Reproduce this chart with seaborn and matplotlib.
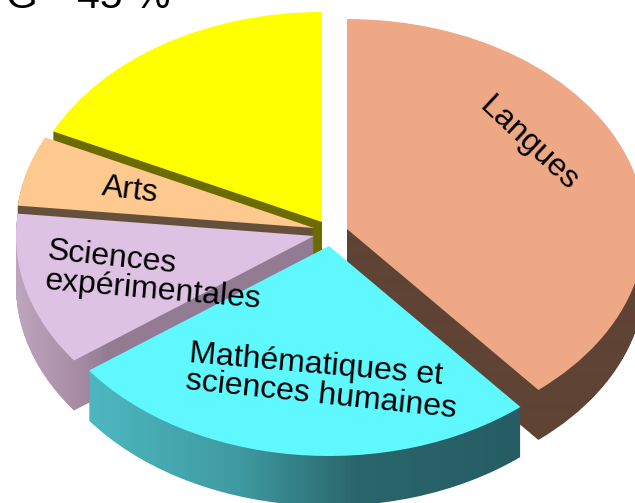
import numpy as np
import seaborn as sns
import matplotlib
matplotlib.use("Agg")
import matplotlib.pyplot as plt
from matplotlib.colors import LinearSegmentedColormap
from matplotlib.path import Path

# share of each subject
subjects = ["Langues", "Mathématiques et\nsciences humaines", "Sciences\nexpérimentales", "Arts", "Autres"]
shares = [38.9, 26.0, 11.8, 5.4, 17.9]

top_colors = ["#eea886", "#5ff8ff", "#dec2e4", "#fdc98e", "#ffff00"]
wall_colors = [
	[(0, "#5f4334"), (1, "#5f4334")],
	[(0, "#4db8c0"), (0.35, "#3f9aa1"), (0.62, "#2a666c"), (1, "#265d64")],
	[(0, "#bda5bd"), (0.2, "#a88ca6"), (0.3, "#937c93"), (1, "#937c93")],
	[(0, "#65503c"), (1, "#65503c")],
	[(0, "#6b6b00"), (1, "#6b6b00")],
]

# apex of each exploded slice in image pixels, and wall height
apex_px = [(347, 229), (329, 246), (314, 236), (314, 228), (322, 222)]
wall_px = [(348, 640), (88, 520), (17, 320), (20, 320), (50, 325)]
depth_px = 50
draw_order = [4, 3, 2, 0, 1]

W, H = 635, 503
RX, RY = 298.0, 210.0
CX, CY = 322.0, 232.0


def to_x(px):
	return (px - CX) / RX


def to_y(py):
	return (CY - py) / RY


sns.set_style("white")
plt.rcParams["font.family"] = ["Liberation Sans", "DejaVu Sans"]
plt.rcParams["text.color"] = "black"

fig = plt.figure(figsize=(W / 100, H / 100), dpi=100)
ax = fig.add_axes([0, 0, 1, 1])

wedges, _ = ax.pie(shares, colors=top_colors, startangle=90, counterclock=False, radius=1)
ax.set_aspect("auto")

xs = np.arange(W) + 0.5
for z, i in enumerate(draw_order):
	w = wedges[i]
	w.set_center((to_x(apex_px[i][0]), to_y(apex_px[i][1])))
	w.set_zorder(2 * z + 1)
	w.set_linewidth(0)

	# side wall: stack copies of the slice downwards and fill the union with a gradient
	base = w.get_path()
	layers = []
	for d in np.arange(1, depth_px + 1, 1.0):
		layers.append(Path(base.vertices - [0, d / RY], base.codes))
	wall = Path.make_compound_path(*layers)

	cmap = LinearSegmentedColormap.from_list("wall%d" % i, wall_colors[i])
	x0, x1 = wall_px[i]
	ramp = np.clip((xs - x0) / (x1 - x0), 0, 1).reshape(1, -1)
	im = ax.imshow(ramp, cmap=cmap, vmin=0, vmax=1, aspect="auto",
		extent=(to_x(0), to_x(W), to_y(H), to_y(0)), zorder=2 * z, interpolation="bilinear")
	im.set_clip_path(wall, ax.transData)

ax.set_xlim(to_x(0), to_x(W))
ax.set_ylim(to_y(H), to_y(0))
ax.axis("off")

# labels
fs = 23
kw = dict(fontsize=fs, ha="center", va="center", zorder=20, rotation_mode="anchor")
ax.text(to_x(529), to_y(144), subjects[0], rotation=-43, **kw)
ax.text(to_x(130), to_y(191), subjects[3], rotation=-7, **kw)
ax.text(to_x(112), to_y(258), "Sciences", rotation=-6, **kw)
ax.text(to_x(153), to_y(291), "expérimentales", rotation=-5, **kw)
ax.text(to_x(316), to_y(365), "Mathématiques et", rotation=-5, **kw)
ax.text(to_x(321), to_y(395), "sciences humaines", rotation=-6, **kw)

# title cut by the top edge of the picture
tkw = dict(fontsize=29.5, ha="left", va="baseline", zorder=20)
ax.text(to_x(6), to_y(8.5), "G", **tkw)
ax.text(to_x(42), to_y(2), "=", **tkw)
ax.text(to_x(77), to_y(8.5), "45 %", **tkw)

fig.savefig("out.png", dpi=100)
plt.close(fig)
